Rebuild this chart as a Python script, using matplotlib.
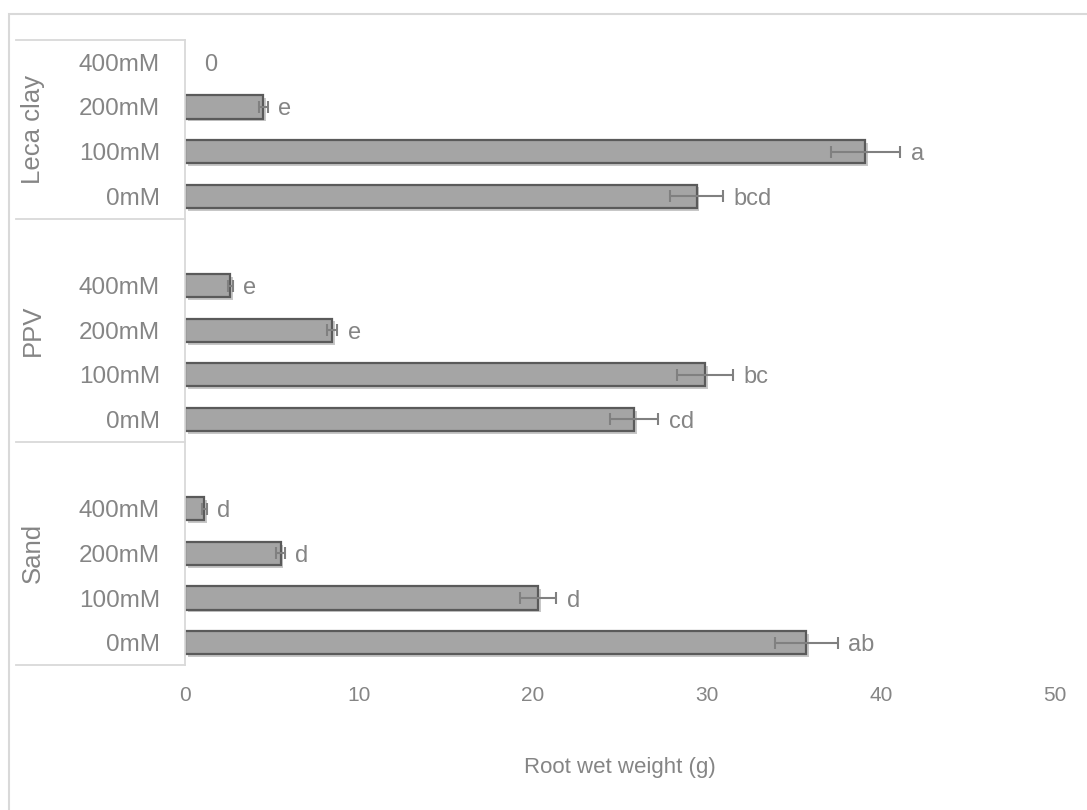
import numpy as np
import matplotlib
matplotlib.use('Agg')
import matplotlib.pyplot as plt
import matplotlib.patheffects as pe
from matplotlib.patches import Rectangle

# groups from bottom to top, as they sit on the chart
groups = ['Sand', 'PPV', 'Leca clay']
doses = ['0mM', '100mM', '200mM', '400mM']

sand = [35.7, 20.3, 5.5, 1.1]
sand_err = [1.8, 1.05, 0.25, 0.15]
sand_let = ['ab', 'd', 'd', 'd']

ppv = [25.8, 29.9, 8.45, 2.6]
ppv_err = [1.4, 1.6, 0.3, 0.15]
ppv_let = ['cd', 'bc', 'e', 'e']

leca = [29.4, 39.1, 4.5, 0.0]
leca_err = [1.5, 2.0, 0.25, 0.0]
leca_let = ['bcd', 'a', 'e', '0']

vals = [sand, ppv, leca]
errs = [sand_err, ppv_err, leca_err]
lets = [sand_let, ppv_let, leca_let]

plt.rcParams['font.family'] = ['Liberation Sans', 'DejaVu Sans']
grey = '#858585'

fig = plt.figure(figsize=(10.87, 8.10), dpi=100)
W, H = 1087, 810
ax = fig.add_axes([185 / W, 1 - 665 / H, 870 / W, 625 / H])

# slot layout: each group has its 4 doses, lower groups get a blank slot on top
pos, ylabels, xs, es, ls = [], [], [], [], []
spans = []
p = 0
for gi, g in enumerate(groups):
    start = p - 0.5
    for di, d in enumerate(doses):
        pos.append(p)
        ylabels.append(d)
        xs.append(vals[gi][di])
        es.append(errs[gi][di])
        ls.append(lets[gi][di])
        p += 1
    if gi < len(groups) - 1:
        p += 1
    spans.append((start, p - 0.5))

pos = np.array(pos)
xs = np.array(xs)
es = np.array(es)
nz = xs > 0

shadow = [pe.SimplePatchShadow(offset=(2, -2), shadow_rgbFace='#000000', alpha=0.22), pe.Normal()]
ax.barh(pos[nz], xs[nz], height=0.52, color='#a5a5a5', edgecolor='#5a5a5a', linewidth=1.6,
        path_effects=shadow, zorder=2)
ax.errorbar(xs[nz], pos[nz], xerr=es[nz], fmt='none', ecolor='#808080', elinewidth=1.5,
            capsize=4, capthick=1.5, zorder=3)

for x, e, y, t in zip(xs, es, pos, ls):
    pad = 0.6 if x > 0 else 1.1
    ax.text(x + e + pad, y, t, ha='left', va='center_baseline', fontsize=17, color=grey)

ax.set_xlim(0, 50)
ax.set_ylim(-0.5, p - 0.5)
ax.set_xticks(np.arange(0, 51, 10))
ax.tick_params(axis='x', length=0, labelsize=15, labelcolor=grey, pad=15)
ax.set_yticks(pos)
ax.set_yticklabels(ylabels)
ax.tick_params(axis='y', length=0, labelsize=17.5, labelcolor=grey, pad=18)

for s in ['top', 'right', 'bottom']:
    ax.spines[s].set_visible(False)
ax.spines['left'].set_color('#d9d9d9')
ax.spines['left'].set_linewidth(1.3)

ax.set_xlabel('Root wet weight (g)', fontsize=16, color=grey)
ax.xaxis.set_label_coords(0.5, -(768 - 665) / 625)
ax.xaxis.label.set_va('center')

# category boxes on the left
ytrans = ax.get_yaxis_transform()
x_left = (16 - 185) / 870
edges = sorted(set([s[0] for s in spans] + [s[1] for s in spans]))
for yv in edges:
    ax.plot([x_left, 0], [yv, yv], color='#d9d9d9', lw=1.3, transform=ytrans, clip_on=False)
for g, (a, b) in zip(groups, spans):
    ax.text((33 - 185) / 870, (a + b) / 2, g, rotation=90, ha='center', va='center',
            fontsize=18.5, color=grey, transform=ytrans)

# outer chart border
fig.patches.append(Rectangle((9 / W, -0.1), 1.2, 1 - 14 / H + 0.1, transform=fig.transFigure,
                             fill=False, edgecolor='#d9d9d9', linewidth=1.5))

fig.savefig('out.png', dpi=100)
